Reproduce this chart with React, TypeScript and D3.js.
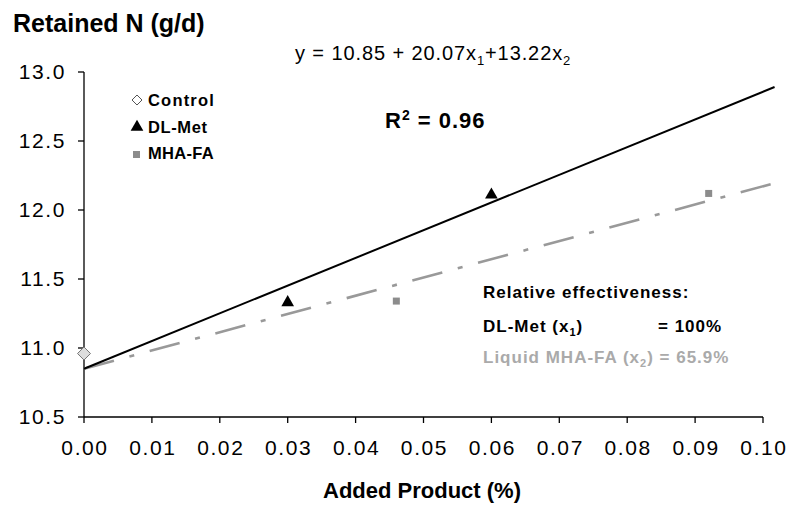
import React from 'react';
import * as d3 from 'd3';

// tick values
const xTicks = [0, 0.01, 0.02, 0.03, 0.04, 0.05, 0.06, 0.07, 0.08, 0.09, 0.1];
const yTicks = [10.5, 11.0, 11.5, 12.0, 12.5, 13.0];

// observed points
const controlPts = [{ x: 0, y: 10.96 }];
const dlMetPts = [
  { x: 0.03, y: 11.33 },
  { x: 0.06, y: 12.11 },
];
const mhaPts = [
  { x: 0.046, y: 11.34 },
  { x: 0.092, y: 12.12 },
];

// regression: y = 10.85 + 20.07 x1 + 13.22 x2
const intercept = 10.85;
const slopeDL = 20.07;
const slopeMHA = 13.22;
const lineX = [0, 0.1017];

const W = 792;
const H = 508;
const font = 'Arial, "Liberation Sans", sans-serif';

export default function App() {
  const x = d3.scaleLinear().domain([0, 0.1]).range([84, 763]);
  const y = d3.scaleLinear().domain([10.5, 13.0]).range([417, 72]);

  const dlLine = d3
    .line<number>()
    .x(d => x(d))
    .y(d => y(intercept + slopeDL * d))(lineX) || '';
  const mhaLine = d3
    .line<number>()
    .x(d => x(d))
    .y(d => y(intercept + slopeMHA * d))(lineX) || '';

  const tri = d3.symbol().type(d3.symbolTriangle).size(70)() || '';
  const dia = (s: number) => `M0,${-s}L${s},0L0,${s}L${-s},0Z`;

  return (
    <svg width={W} height={H} style={{ position: 'absolute', left: 0, top: 0, background: '#fff' }} fontFamily={font}>
      <rect width={W} height={H} fill="#fff" />

      {/* axes */}
      <line x1={x(0)} x2={x(0)} y1={y(13)} y2={y(10.5)} stroke="#000" strokeWidth={1.3} />
      <line x1={x(0)} x2={x(0.1)} y1={y(10.5)} y2={y(10.5)} stroke="#000" strokeWidth={1.3} />
      {yTicks.map(t => (
        <g key={'y' + t}>
          <line x1={x(0) - 6} x2={x(0)} y1={y(t)} y2={y(t)} stroke="#000" strokeWidth={1.3} />
          <text x={66} y={y(t) + 7} textAnchor="end" fontSize={21} letterSpacing={1.6}>
            {t.toFixed(1)}
          </text>
        </g>
      ))}
      {xTicks.map(t => (
        <g key={'x' + t}>
          <line x1={x(t)} x2={x(t)} y1={y(10.5)} y2={y(10.5) + 6} stroke="#000" strokeWidth={1.3} />
          <text x={x(t) + 1} y={455} textAnchor="middle" fontSize={21} letterSpacing={1.6}>
            {t.toFixed(2)}
          </text>
        </g>
      ))}

      {/* axis titles */}
      <text x={13} y={32} fontSize={25} fontWeight="bold">Retained N (g/d)</text>
      <text x={422} y={498} textAnchor="middle" fontSize={22} fontWeight="bold">Added Product (%)</text>

      {/* regression lines */}
      <path d={mhaLine} fill="none" stroke="#999" strokeWidth={2.6} strokeDasharray="31,16,5,16" />
      <path d={dlLine} fill="none" stroke="#000" strokeWidth={2} />

      {/* points */}
      {mhaPts.map((p, i) => (
        <rect key={'m' + i} x={x(p.x) - 3.5} y={y(p.y) - 3.5} width={7} height={7} fill="#8c8c8c" />
      ))}
      {dlMetPts.map((p, i) => (
        <path key={'d' + i} d={tri} transform={`translate(${x(p.x)},${y(p.y)})`} fill="#000" />
      ))}
      {controlPts.map((p, i) => (
        <path key={'c' + i} d={dia(6.5)} transform={`translate(${x(p.x)},${y(p.y)})`} fill="#ddd" stroke="#777" strokeWidth={1} />
      ))}

      {/* legend */}
      <path d={dia(5)} transform="translate(137,100)" fill="#fff" stroke="#555" strokeWidth={1} />
      <text x={148} y={106} fontSize={16.5} fontWeight="bold" letterSpacing={1.2}>Control</text>
      <path d={tri} transform="translate(137,127)" fill="#000" />
      <text x={148} y={133} fontSize={16.5} fontWeight="bold" letterSpacing={0.6}>DL-Met</text>
      <rect x={133} y={151} width={7} height={7} fill="#8c8c8c" />
      <text x={148} y={159} fontSize={16.5} fontWeight="bold" letterSpacing={0.3}>MHA-FA</text>

      {/* equation */}
      <text x={295} y={60} fontSize={20} letterSpacing={0.9}>
        y = 10.85 + 20.07x
        <tspan fontSize={13} dy={5}>1</tspan>
        <tspan dy={-5}>+13.22x</tspan>
        <tspan fontSize={13} dy={5}>2</tspan>
      </text>
      <text x={385} y={128} fontSize={22} fontWeight="bold" letterSpacing={1}>
        R<tspan fontSize={14} dy={-8}>2</tspan>
        <tspan dy={8}> = 0.96</tspan>
      </text>

      {/* relative effectiveness */}
      <g fontSize={17} fontWeight="bold" letterSpacing={1}>
        <text x={483} y={298}>Relative effectiveness:</text>
        <text x={483} y={332}>
          DL-Met (x<tspan fontSize={11} dy={4}>1</tspan>
          <tspan dy={-4}>)</tspan>
        </text>
        <text x={658} y={332}>= 100%</text>
        <text x={483} y={363} fill="#aaa">
          Liquid MHA-FA (x<tspan fontSize={11} dy={4}>2</tspan>
          <tspan dy={-4}>) = 65.9%</tspan>
        </text>
      </g>
    </svg>
  );
}
